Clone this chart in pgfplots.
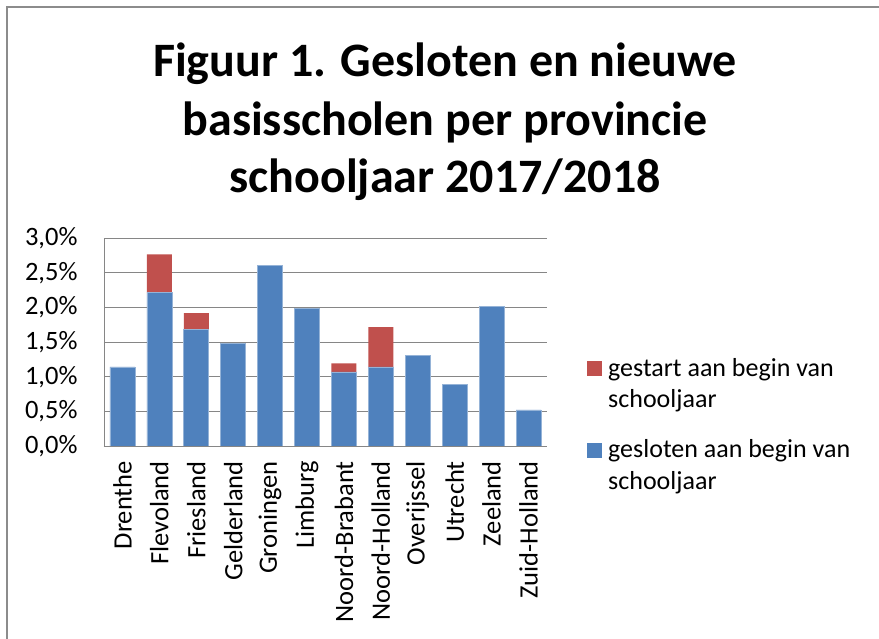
\documentclass[border=0pt]{standalone}
\usepackage{pgfplots}
\pgfplotsset{compat=1.18}
\usepackage{fontspec}
\setmainfont{Carlito}
\definecolor{cblue}{HTML}{4F81BD}
\definecolor{cred}{HTML}{C0504D}
\definecolor{cgrid}{HTML}{868686}
\definecolor{cframe}{HTML}{8C8C8C}
\begin{document}
\begin{tikzpicture}
\useasboundingbox (0pt,0pt) rectangle (879pt,639pt);
\draw[cframe, line width=2pt] (7pt,0pt) -- (7pt,632pt) -- (879pt,632pt);
\node[anchor=base, font=\fontsize{48}{58}\selectfont\bfseries, inner sep=0pt] at (445pt,562pt) {Figuur 1. Gesloten en nieuwe};
\node[anchor=base, font=\fontsize{48}{58}\selectfont\bfseries, inner sep=0pt] at (445pt,503pt) {basisscholen per provincie};
\node[anchor=base, font=\fontsize{48}{58}\selectfont\bfseries, inner sep=0pt] at (445pt,446pt) {schooljaar 2017/2018};
\begin{axis}[
  at={(104pt,193pt)}, anchor=south west,
  scale only axis, width=443pt, height=208pt,
  ybar stacked, bar width=25pt,
  xmin=-0.5, xmax=11.5, ymin=0, ymax=3,
  xtick={0,...,11},
  xticklabels={Drenthe,Flevoland,Friesland,Gelderland,Groningen,Limburg,Noord-Brabant,Noord-Holland,Overijssel,Utrecht,Zeeland,Zuid-Holland},
  ytick={0,0.5,1,1.5,2,2.5,3},
  ymajorgrids, grid style={cgrid, line width=0.8pt},
  axis x line*=bottom, axis y line*=left,
  axis line style={cgrid, line width=0.8pt, -},
  major tick length=0pt,
  tick label style={font=\fontsize{26.5}{31.7}\selectfont, text=black},
  /pgf/number format/assume math mode=true,
  yticklabel={\pgfmathprintnumber[fixed,fixed zerofill,precision=1,use comma]{\tick}\%},
  yticklabel style={xshift=-23pt},
  xticklabel style={rotate=90, anchor=east, inner xsep=15pt},
  reverse legend,
  legend image code/.code={\fill[#1,draw=none] (0pt,31.7pt) rectangle (15pt,46.7pt);},
  legend style={at={(1.0903,0.423)}, anchor=north west, draw=none, fill=none,
    inner sep=0pt, row sep=30pt, column sep=6pt,
    font=\fontsize{26}{31.7}\selectfont,
    nodes={inner sep=0pt, align=left},
    cells={anchor=base west}},
]
\addplot[fill=cblue, draw=cblue!60!white, line width=0.6pt] coordinates {(0,1.14) (1,2.21) (2,1.68) (3,1.48) (4,2.60) (5,1.99) (6,1.07) (7,1.14) (8,1.31) (9,0.89) (10,2.01) (11,0.52)};
\addlegendentry{gesloten aan begin van\\schooljaar}
\addplot[fill=cred, draw=none] coordinates {(0,0) (1,0.555) (2,0.235) (3,0) (4,0) (5,0) (6,0.12) (7,0.575) (8,0) (9,0) (10,0) (11,0)};
\addlegendentry{gestart aan begin van\\schooljaar}
\end{axis}
\end{tikzpicture}
\end{document}
